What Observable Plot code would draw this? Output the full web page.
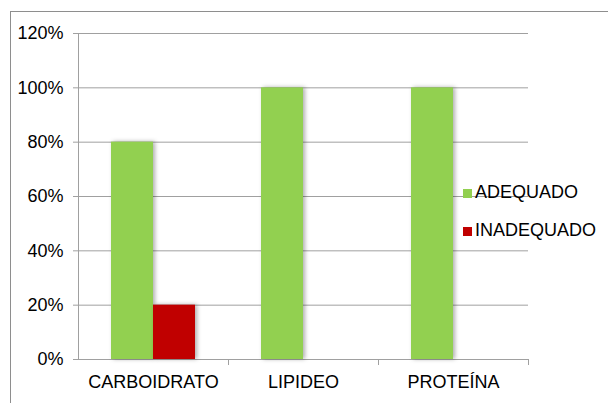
<!DOCTYPE html>
<html>
<head>
<meta charset="utf-8">
<script src="https://cdn.jsdelivr.net/npm/d3@7"></script>
<script src="https://cdn.jsdelivr.net/npm/@observablehq/plot@0.6"></script>
<style>
  html, body { margin: 0; padding: 0; background: #fff; overflow: hidden; width: 608px; height: 403px; }
  #wrap { position: relative; width: 608px; height: 403px; overflow: hidden; }
  #border { position: absolute; left: 10px; top: 11px; width: 700px; height: 500px;
            border-left: 1px solid #8e8e8e; border-top: 1px solid #8e8e8e; box-sizing: border-box; }
  #chart { position: absolute; left: 0; top: 0; }
  #chart svg { background: transparent; }
  #chart svg g[aria-label="bar"] rect { filter: drop-shadow(2px 0px 2px rgba(0,0,0,0.32)); }
  #legend { position: absolute; left: 463px; top: 183px; font-family: "Liberation Sans", Arial, sans-serif;
            font-size: 18px; line-height: 18px; color: #000; }
  #legend .item { height: 18px; margin-bottom: 20px; white-space: nowrap; }
  #legend .sw { display: inline-block; width: 9px; height: 9px; margin-right: 3px; position: relative; top: 0px; }
</style>
</head>
<body>
<div id="wrap">
  <div id="border"></div>
  <div id="chart"></div>
  <div id="legend"></div>
</div>
<script>
// ---- data ----
const categories = ["CARBOIDRATO", "LIPIDEO", "PROTEÍNA"];
const series = ["ADEQUADO", "INADEQUADO"];
const adequado = [0.80, 1.00, 1.00];
const inadequado = [0.20, 0.00, 0.00];
const seriesColors = ["#92D050", "#C00000"];
const yTicks = [0, 0.2, 0.4, 0.6, 0.8, 1.0, 1.2];

const values = [adequado, inadequado];
const data = [];
categories.forEach((c, i) => series.forEach((s, j) => data.push({cat: c, series: s, value: values[j][i]})));

const gray = "#a0a0a0";

// small tick marks at the right edge of each category band, below the baseline
function boundaryTicks(index, scales, vals, dim) {
  const xr = dim.width - dim.marginRight;
  const y0 = scales.y(0);
  const g = d3.create("svg:g");
  g.append("line")
    .attr("x1", xr + 0.5).attr("x2", xr + 0.5)
    .attr("y1", y0).attr("y2", y0 + 6)
    .attr("stroke", gray);
  return g.node();
}

const chart = Plot.plot({
  width: 608,
  height: 403,
  marginLeft: 77,
  marginRight: 80,
  marginTop: 33,
  marginBottom: 44,
  style: {fontFamily: "'Liberation Sans', Arial, sans-serif", fontSize: "18px", color: "#000", background: "transparent"},
  fx: {domain: categories, padding: 0, label: null},
  x: {domain: series, paddingInner: 0, paddingOuter: 0.75, axis: null},
  y: {domain: [0, 1.2], label: null},
  color: {domain: series, range: seriesColors},
  marks: [
    Plot.gridY(yTicks, {stroke: gray, strokeOpacity: 1}),
    Plot.frame({anchor: "left", stroke: gray, facetAnchor: "left"}),
    Plot.ruleY([0], {stroke: gray}),
    Plot.barY(data, {fx: "cat", x: "series", y: "value", fill: "series"}),
    Plot.axisY({ticks: yTicks, tickFormat: d3.format(".0%"), tickSize: 5, tickPadding: 10, stroke: gray, label: null, fill: "#000"}),
    Plot.axisFx({anchor: "bottom", tickSize: 0, tickPadding: 16, label: null, fill: "#000"}),
    boundaryTicks
  ]
});
document.getElementById("chart").appendChild(chart);

// legend built from the series arrays and color scale
const color = chart.scale("color");
const legend = document.getElementById("legend");
series.forEach((s, i) => {
  const item = document.createElement("div");
  item.className = "item";
  const sw = document.createElement("span");
  sw.className = "sw";
  sw.style.background = color.range[i];
  item.appendChild(sw);
  item.appendChild(document.createTextNode(s));
  legend.appendChild(item);
});
</script>
</body>
</html>
